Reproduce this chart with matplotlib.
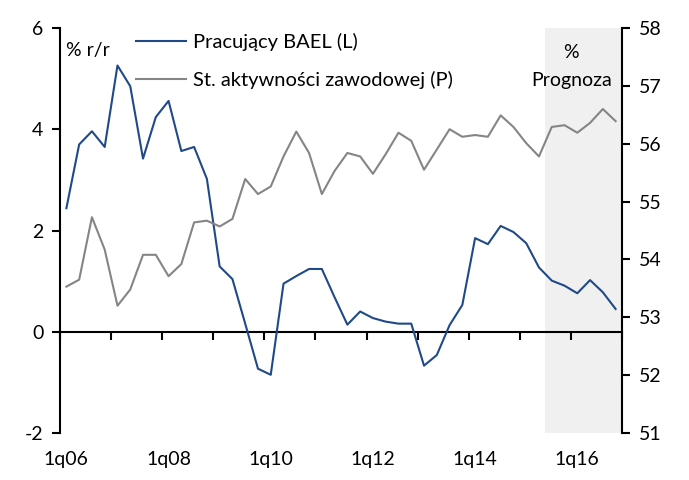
import numpy as np
import matplotlib
matplotlib.use("Agg")
from matplotlib import pyplot as plt
import matplotlib.transforms as mtransforms

plt.rcParams['font.family'] = ['Lato', 'DejaVu Sans']
plt.rcParams['axes.unicode_minus'] = False

# quarterly data 1q06 .. 4q16
years = list(range(2006, 2017))
quarters = [f"{q}q{y % 100:02d}" for y in years for q in range(1, 5)]

employed = [2.44, 3.70, 3.96, 3.65, 5.26, 4.85, 3.42, 4.24, 4.56, 3.57, 3.65, 3.02,
            1.29, 1.04, 0.16, -0.73, -0.85, 0.95, 1.10, 1.24, 1.24, 0.68, 0.14, 0.40,
            0.27, 0.20, 0.16, 0.16, -0.67, -0.46, 0.13, 0.53, 1.85, 1.73, 2.09, 1.97,
            1.75, 1.27, 1.01, 0.91, 0.76, 1.02, 0.78, 0.45]

activity = [53.53, 53.65, 54.73, 54.17, 53.20, 53.48, 54.08, 54.08, 53.71, 53.92, 54.64, 54.67,
            54.57, 54.70, 55.39, 55.13, 55.26, 55.78, 56.21, 55.84, 55.13, 55.53, 55.84, 55.78,
            55.48, 55.82, 56.19, 56.05, 55.55, 55.90, 56.25, 56.12, 56.15, 56.12, 56.49, 56.29,
            56.01, 55.78, 56.29, 56.32, 56.19, 56.36, 56.60, 56.39]

forecast_start = "3q15"
label_every = 8

x = np.arange(len(quarters))
blue = "#1F4A87"
gray = "#858585"

fig = plt.figure(figsize=(6.89, 4.8), dpi=100)
ax = fig.add_axes([60/689, 1-433/480, 562/689, 405/480])
ax2 = ax.twinx()

fs = quarters.index(forecast_start)
ax.axvspan(fs - 0.5, len(quarters) - 0.5, color="#F0F0F0", lw=0, zorder=0)

l1, = ax.plot(x, employed, color=blue, lw=1.5, label="Pracujący BAEL (L)", zorder=3)
l2, = ax2.plot(x, activity, color=gray, lw=1.5, label="St. aktywności zawodowej (P)", zorder=2)

ax.set_xlim(-0.5, len(quarters) - 0.5)
ax.set_ylim(-2, 6)
ax.set_yticks([-2, 0, 2, 4, 6])
ax2.set_ylim(51, 58)
ax2.set_yticks(range(51, 59))

ax.spines[['top']].set_visible(False)
ax.spines['right'].set_visible(False)
ax.spines['bottom'].set_position(('data', 0))
ax2.spines[['top', 'bottom', 'left']].set_visible(False)
for s in ['left', 'bottom']:
    ax.spines[s].set_linewidth(1.5)
ax2.spines['right'].set_linewidth(1.5)

# year ticks on the zero line, labels every two years at the bottom
ax.set_xticks(np.arange(-0.5, len(quarters), 4))
ax.tick_params(axis='x', length=6, width=1.5, labelbottom=False)
ax.tick_params(axis='y', length=6, width=1.5, labelsize=14, pad=6)
ax2.tick_params(axis='y', length=6, width=1.5, labelsize=14, pad=6)

trans = mtransforms.blended_transform_factory(ax.transData, ax.transAxes)
for i in range(0, len(quarters), label_every):
    ax.text(x[i], -0.045, quarters[i], transform=trans, ha='center', va='top', fontsize=14)

ax.text(0.01, 0.945, "% r/r", transform=ax.transAxes, fontsize=14, va='center', ha='left')
ax.text(0.91, 0.94, "%", transform=ax.transAxes, fontsize=14, va='center', ha='center')
ax.text(0.91, 0.87, "Prognoza", transform=ax.transAxes, fontsize=14, va='center', ha='center')

fig.legend(handles=[l1, l2], loc='upper left', bbox_to_anchor=(136/689, 1-33/480),
           frameon=False, fontsize=14.5, handlelength=2.5, handletextpad=0.35,
           borderpad=0, borderaxespad=0, labelspacing=1.0)

plt.savefig("out.png", dpi=100)
